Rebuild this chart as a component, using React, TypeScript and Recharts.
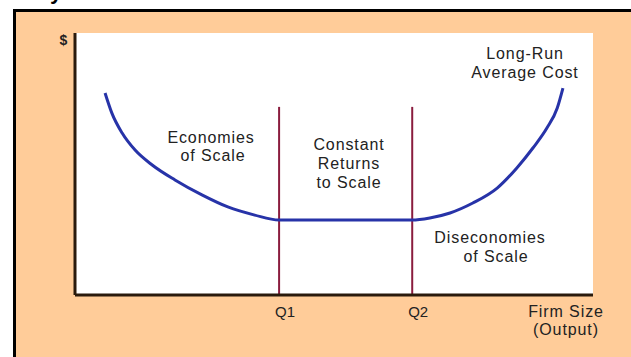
import {
  ComposedChart,
  Line,
  XAxis,
  YAxis,
  CartesianGrid,
  ReferenceLine,
} from "recharts";

// firm size (output) on a 0-100 scale
const outputSize = [
  5.8, 7.1, 9.1, 11.6, 14.9, 19.3, 24.5, 29.5, 34.7, 39.4,
  65.1, 68.5, 72.4, 76.8, 81.5, 85.3, 88.4, 91.1, 93.1, 94.2,
];
// long-run average cost ($) on a 0-100 scale
const avgCost = [
  77.1, 69.5, 61.8, 55.3, 49.6, 43.9, 38.2, 33.6, 30.5, 28.6,
  28.6, 29.4, 31.3, 35.1, 40.8, 48.5, 56.1, 63.7, 71.4, 79.0,
];
const qTicks = [39.4, 65.1];
const qLabels = ["Q1", "Q2"];
const qLineTop = 71.8;

const data = outputSize.map((x, i) => ({ x, cost: avgCost[i] }));

const FONT = '"Liberation Sans", Arial, sans-serif';
const AXIS = "#2a1a0c";
const CURVE = "#2733a8";
const QLINE = "#8a1c3e";
const TEXT = "#222";

type TickProps = { x?: number; y?: number; index?: number };

function QTick({ x = 0, index = 0 }: TickProps) {
  return (
    <text x={x + 6} y={317} textAnchor="middle" fontSize={15} fontFamily={FONT} fill={TEXT}>
      {qLabels[index]}
    </text>
  );
}

function Lines({ x, ys, lines }: { x: number | number[]; ys: number[]; lines: string[] }) {
  return (
    <>
      {lines.map((t, i) => (
        <text
          key={t}
          x={Array.isArray(x) ? x[i] : x}
          y={ys[i]}
          textAnchor="middle"
          fontSize={16}
          letterSpacing={0.9}
          fontFamily={FONT}
          fill={TEXT}
        >
          {t}
        </text>
      ))}
    </>
  );
}

export default function App() {
  return (
    <div
      style={{
        position: "fixed",
        left: 0,
        top: 0,
        width: 631,
        height: 357,
        background: "#fff",
        overflow: "hidden",
      }}
    >
      <div
        style={{
          position: "absolute",
          left: 13,
          top: 9,
          width: 618,
          height: 348,
          background: "#ffcc99",
          borderLeft: "3px solid #000",
          borderTop: "3px solid #000",
        }}
      />
      <div style={{ position: "absolute", left: 0, top: 0 }}>
        <ComposedChart
          width={631}
          height={357}
          data={data}
          margin={{ top: 33, right: 38, bottom: 32, left: 65 }}
        >
          <CartesianGrid fill="#fff" horizontal={false} vertical={false} stroke="none" />
          <XAxis
            dataKey="x"
            type="number"
            domain={[0, 100]}
            ticks={qTicks}
            height={30}
            tickLine={false}
            axisLine={{ stroke: AXIS, strokeWidth: 3 }}
            tick={<QTick />}
            interval={0}
          />
          <YAxis
            type="number"
            domain={[0, 100]}
            width={10}
            tick={false}
            tickLine={false}
            axisLine={{ stroke: AXIS, strokeWidth: 3 }}
          />
          {qTicks.map((q) => (
            <ReferenceLine
              key={q}
              segment={[
                { x: q, y: 0 },
                { x: q, y: qLineTop },
              ]}
              stroke={QLINE}
              strokeWidth={2}
            />
          ))}
          <Line
            type="monotone"
            dataKey="cost"
            stroke={CURVE}
            strokeWidth={3}
            dot={false}
            isAnimationActive={false}
          />
        </ComposedChart>
      </div>
      <svg
        width={631}
        height={357}
        style={{ position: "absolute", left: 0, top: 0, pointerEvents: "none" }}
      >
        <text x={50} y={-1} fontSize={22} fontWeight="bold" fontFamily={FONT} fill="#000">
          y
        </text>
        <text x={63.5} y={45} textAnchor="middle" fontSize={14} fontWeight="bold" fontFamily={FONT} fill={TEXT}>
          $
        </text>
        <Lines x={[211, 213]} ys={[143, 161]} lines={["Economies", "of Scale"]} />
        <Lines x={349} ys={[150, 169, 188]} lines={["Constant", "Returns", "to Scale"]} />
        <Lines x={525} ys={[59, 78]} lines={["Long-Run", "Average Cost"]} />
        <Lines x={[490, 496]} ys={[243, 262]} lines={["Diseconomies", "of Scale"]} />
        <Lines x={566} ys={[317, 335]} lines={["Firm Size", "(Output)"]} />
      </svg>
    </div>
  );
}
